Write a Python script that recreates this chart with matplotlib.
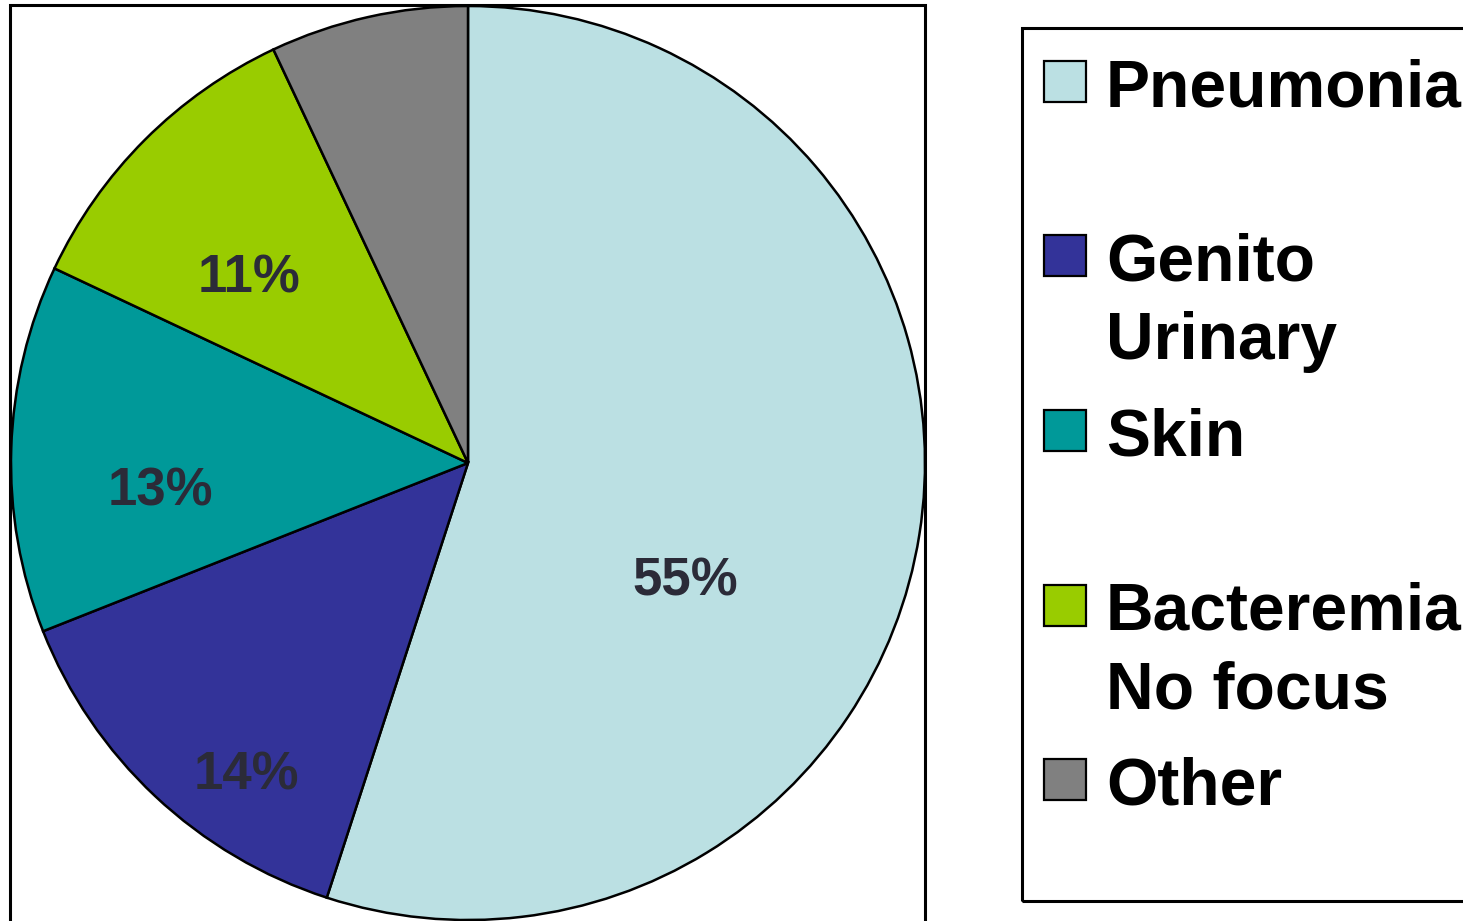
import matplotlib
matplotlib.use("Agg")
import matplotlib.pyplot as plt
from matplotlib.patches import Rectangle

categories = ["Pneumonia", "Genito\nUrinary", "Skin", "Bacteremia\nNo focus", "Other"]
shares = [55, 14, 13, 11, 7]
shown = ["55%", "14%", "13%", "11%", None]
colors = ["#BBE0E3", "#333399", "#009999", "#99CC00", "#808080"]

# where each percentage sits inside the pie (unit radius, text baseline)
label_xy = [(0.475, -0.289), (-0.486, -0.715), (-0.674, -0.094), (-0.479, 0.372), None]

W, H = 1463, 921
plt.rcParams["font.family"] = ["Liberation Sans", "DejaVu Sans"]
plt.rcParams["font.weight"] = "bold"

fig = plt.figure(figsize=(W / 100, H / 100), dpi=100)

def fx(px):
    return px / W

def fy(py):
    return 1 - py / H

# pie, centre (468, 463) px, radius 457 px
cx, cy, r = 468, 463, 457
ax = fig.add_axes([fx(cx - r), fy(cy + r), fx(2 * r), 2 * r / H])
wedges, _ = ax.pie(shares, colors=colors, startangle=90, counterclock=False,
                   radius=1, wedgeprops=dict(edgecolor="black", linewidth=1.8))
ax.set_xlim(-1, 1)
ax.set_ylim(-1, 1)
ax.axis("off")
for txt, pos in zip(shown, label_xy):
    if txt is None:
        continue
    ax.text(pos[0], pos[1], txt, ha="center", va="baseline", fontsize=38,
            fontweight="bold", color="#2b2b38")

# plot area frame
fig.patches.append(Rectangle((fx(10), fy(H + 20)), fx(915), (H + 15) / H,
                             transform=fig.transFigure, fill=False,
                             edgecolor="black", linewidth=2.2))

# legend box and entries
fig.patches.append(Rectangle((fx(1022), fy(901)), fx(600), 873 / H,
                             transform=fig.transFigure, fill=False,
                             edgecolor="black", linewidth=2.2, zorder=1))
step = 174.5
for i, (name, col) in enumerate(zip(categories, colors)):
    base = 106 + i * step
    fig.patches.append(Rectangle((fx(1044), fy(base - 4)), fx(42), 41 / H,
                                 transform=fig.transFigure, facecolor=col,
                                 edgecolor="black", linewidth=1.6))
    for j, line in enumerate(name.split("\n")):
        fig.text(fx(1106), fy(base + j * 78.5), line, ha="left", va="baseline",
                 fontsize=47.5, fontweight="bold", color="black")

fig.savefig("out.png", dpi=100)
